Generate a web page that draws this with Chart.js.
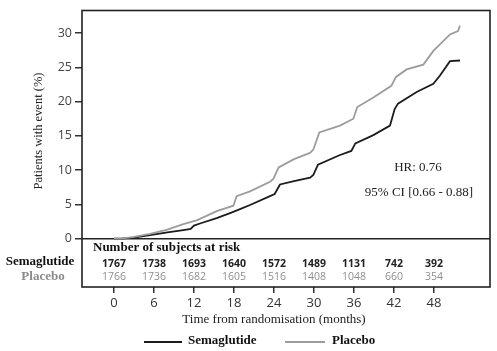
<!DOCTYPE html>
<html>
<head>
<meta charset="utf-8">
<script src="https://cdn.jsdelivr.net/npm/chart.js@4"></script>
<style>
  html, body { margin: 0; padding: 0; background: #ffffff; }
  #wrap { width: 497px; height: 351px; position: relative; }
</style>
</head>
<body>
<div id="wrap"><canvas id="c" width="497" height="351"></canvas></div>
<script>
// ---- Data ----
const seriesNames = ['Semaglutide', 'Placebo'];
const semaMonths = [0, 1, 3, 5.4, 8, 10.4, 11.5, 12.0, 12.9, 15.4, 17.6, 18.9, 20.4, 23.4, 24.1, 24.9, 27, 29.4, 29.9, 30.6, 33.9, 35.6, 36.2, 38.9, 41.4, 42.1, 42.6, 45.4, 47.9, 48.9, 50.4, 51.9];
const semaPct    = [0, 0, 0.15, 0.5, 0.9, 1.25, 1.4, 1.9, 2.2, 3.0, 3.8, 4.3, 4.9, 6.2, 6.5, 7.9, 8.4, 8.9, 9.3, 10.8, 12.2, 12.8, 13.9, 15.1, 16.5, 18.9, 19.7, 21.4, 22.6, 23.8, 25.9, 26.0];
const placeboMonths = [0, 1, 3, 5.4, 8, 10.4, 12.5, 15.4, 17.9, 18.4, 20.4, 23.4, 23.9, 24.7, 27, 29.4, 29.9, 30.8, 33.9, 35.9, 36.5, 38.9, 41.6, 42.3, 43.9, 46.4, 47.9, 50.4, 51.6, 51.9];
const placeboPct    = [0, 0, 0.25, 0.7, 1.3, 2.1, 2.7, 4.0, 4.8, 6.2, 6.9, 8.3, 8.7, 10.4, 11.6, 12.5, 13.0, 15.5, 16.5, 17.5, 19.2, 20.6, 22.3, 23.6, 24.7, 25.4, 27.4, 29.8, 30.3, 31.1];
const xTickMonths = [0, 6, 12, 18, 24, 30, 36, 42, 48];
const yTickValues = [0, 5, 10, 15, 20, 25, 30];
const atRiskSema    = [1767, 1738, 1693, 1640, 1572, 1489, 1131, 742, 392];
const atRiskPlacebo = [1766, 1736, 1682, 1605, 1516, 1408, 1048, 660, 354];
const hrText = 'HR: 0.76';
const ciText = '95% CI [0.66 - 0.88]';
const yTitle = 'Patients with event (%)';
const xTitle = 'Time from randomisation (months)';
const tableTitle = 'Number of subjects at risk';

const SEMA_COLOR = '#1c1c1c';
const PLAC_COLOR = '#9c9c9c';
const SERIF = '"Liberation Serif", "Times New Roman", serif';
const SANS = '"Open Sans", "DejaVu Sans", sans-serif';

const toXY = (xs, ys) => xs.map((x, i) => ({ x: x, y: ys[i] }));

const overlay = {
  id: 'overlay',
  afterDraw(chart) {
    const ctx = chart.ctx;
    const a = chart.chartArea;
    const xs = chart.scales.x;
    ctx.save();
    // outer box
    ctx.strokeStyle = '#222';
    ctx.lineWidth = 1.6;
    ctx.strokeRect(a.left, a.top, a.right - a.left, a.bottom - a.top);

    // risk table
    ctx.textBaseline = 'middle';
    ctx.textAlign = 'left';
    ctx.fillStyle = '#111';
    ctx.font = 'bold 13px ' + SERIF;
    ctx.fillText(tableTitle, 93, 248);

    ctx.textAlign = 'center';
    ctx.font = 'bold 13px ' + SERIF;
    ctx.fillStyle = '#111';
    ctx.fillText(seriesNames[0], 40, 262);
    ctx.fillStyle = '#8a8a8a';
    ctx.fillText(seriesNames[1], 43, 277);

    ctx.font = 'bold 10.5px ' + SANS;
    ctx.fillStyle = '#222';
    xTickMonths.forEach((m, i) => ctx.fillText(String(atRiskSema[i]), xs.getPixelForValue(m), 264));
    ctx.font = '10.5px ' + SANS;
    ctx.fillStyle = '#8f8f8f';
    xTickMonths.forEach((m, i) => ctx.fillText(String(atRiskPlacebo[i]), xs.getPixelForValue(m), 277));

    // HR annotation
    ctx.fillStyle = '#222';
    ctx.font = '13px ' + SERIF;
    ctx.fillText(hrText, 418, 168);
    ctx.fillText(ciText, 419, 193);

    // axis titles
    ctx.fillStyle = '#222';
    ctx.font = '13px ' + SERIF;
    ctx.fillText(xTitle, (xs.getPixelForValue(0) + xs.getPixelForValue(48)) / 2, 320);
    ctx.save();
    ctx.translate(39, 131);
    ctx.rotate(-Math.PI / 2);
    ctx.font = '12.5px ' + SERIF;
    ctx.fillText(yTitle, 0, 0);
    ctx.restore();

    // legend
    const ly = 342;
    ctx.lineWidth = 2;
    ctx.strokeStyle = SEMA_COLOR;
    ctx.beginPath(); ctx.moveTo(144, ly); ctx.lineTo(182, ly); ctx.stroke();
    ctx.strokeStyle = PLAC_COLOR;
    ctx.beginPath(); ctx.moveTo(285, ly); ctx.lineTo(325, ly); ctx.stroke();
    ctx.textAlign = 'left';
    ctx.font = 'bold 13px ' + SERIF;
    ctx.fillStyle = '#111';
    ctx.fillText(seriesNames[0], 188, ly - 1);
    ctx.fillText(seriesNames[1], 332, ly - 1);
    ctx.restore();
  }
};

new Chart(document.getElementById('c'), {
  type: 'line',
  data: {
    datasets: [
      { label: seriesNames[1], data: toXY(placeboMonths, placeboPct), borderColor: PLAC_COLOR, borderWidth: 1.8, pointRadius: 0, tension: 0, fill: false },
      { label: seriesNames[0], data: toXY(semaMonths, semaPct), borderColor: SEMA_COLOR, borderWidth: 1.8, pointRadius: 0, tension: 0, fill: false }
    ]
  },
  options: {
    responsive: false,
    animation: false,
    layout: { padding: { top: 7, right: 7, left: 0, bottom: 0 } },
    plugins: { legend: { display: false }, tooltip: { enabled: false } },
    scales: {
      x: {
        type: 'linear',
        min: -4.8, max: 56.4,
        afterFit(s) { s.height = 64; },
        afterBuildTicks(s) { s.ticks = xTickMonths.map(v => ({ value: v })); },
        border: { display: false },
        grid: { drawOnChartArea: false, drawTicks: true, tickLength: 6, tickColor: '#333', lineWidth: 1.5 },
        ticks: { color: '#333', font: { family: SANS, size: 13 }, padding: 2, maxRotation: 0, autoSkip: false }
      },
      y: {
        type: 'linear',
        min: -7.07, max: 33.3,
        afterFit(s) { s.width = 82; },
        afterBuildTicks(s) { s.ticks = yTickValues.map(v => ({ value: v })); },
        border: { display: false },
        grid: {
          drawOnChartArea: true,
          color: c => (c.tick && c.tick.value === 0) ? '#222' : 'rgba(0,0,0,0)',
          lineWidth: 1.5,
          tickLength: 7, tickColor: '#333'
        },
        ticks: { color: '#444', font: { family: SANS, size: 12.5 }, padding: 3, autoSkip: false }
      }
    }
  },
  plugins: [overlay]
});
</script>
</body>
</html>
